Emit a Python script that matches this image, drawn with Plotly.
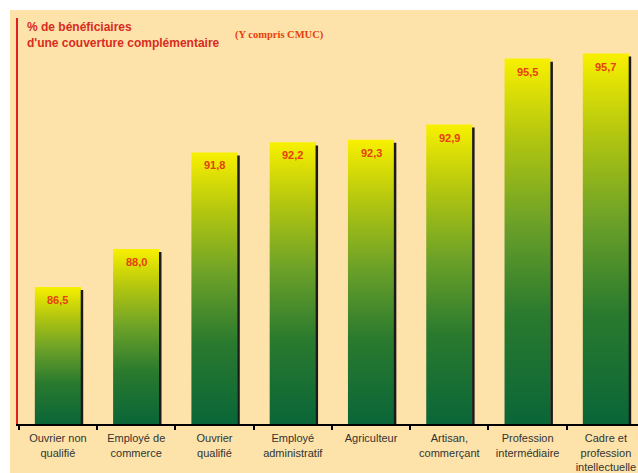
import plotly.graph_objects as go

categories = ["Ouvrier non<br>qualifié", "Employé de<br>commerce", "Ouvrier<br>qualifié",
              "Employé<br>administratif", "Agriculteur", "Artisan,<br>commerçant",
              "Profession<br>intermédiaire", "Cadre et<br>profession<br>intellectuelle"]
values = [86.5, 88.0, 91.8, 92.2, 92.3, 92.9, 95.5, 95.7]
value_labels = ["86,5", "88,0", "91,8", "92,2", "92,3", "92,9", "95,5", "95,7"]

Y_MIN, Y_MAX = 81.1, 97.1
HALF = 0.295
BEIGE = "#FDE3A9"

fig = go.Figure()
for i, v in enumerate(values):
    fig.add_trace(go.Scatter(
        x=[i - HALF, i + HALF, i + HALF, i - HALF, i - HALF],
        y=[Y_MIN, Y_MIN, v, v, Y_MIN],
        mode="lines", line=dict(width=0), fill="toself",
        fillgradient=dict(type="vertical", start=Y_MIN, stop=v,
                          colorscale=[[0, "#0A6638"], [0.3, "#2A7A2E"], [0.55, "#6CA128"],
                                      [0.8, "#B8C90E"], [1, "#F8F000"]]),
        hoverinfo="skip", showlegend=False))
    fig.add_trace(go.Scatter(
        x=[i + HALF + 0.012, i + HALF + 0.012], y=[Y_MIN, v - 0.12],
        mode="lines", line=dict(color="#1A1A1A", width=2.5),
        hoverinfo="skip", showlegend=False))
    fig.add_annotation(x=i, y=v, text="<b>%s</b>" % value_labels[i], showarrow=False,
                       yshift=-13, font=dict(family="Arial", size=11, color="#E63F10"))

fig.add_shape(type="rect", xref="paper", yref="paper", x0=-0.0129, x1=1.01, y0=-0.2, y1=1.0197,
              fillcolor=BEIGE, line=dict(width=0), layer="below")

fig.add_annotation(xref="paper", yref="paper", x=0.012, y=1.0, xanchor="left", yanchor="top",
                   align="left", showarrow=False,
                   text="<b>% de bénéficiaires<br>d'une couverture complémentaire</b>",
                   font=dict(family="Arial", size=12, color="#D92B1F"))
fig.add_annotation(xref="paper", yref="paper", x=0.347, y=0.958, xanchor="left", yanchor="middle",
                   showarrow=False, text="<b>(Y compris CMUC)</b>",
                   font=dict(family="Liberation Serif", size=10.5, color="#E8400C"))

fig.update_layout(
    width=638, height=473,
    margin=dict(l=18, r=0, t=18, b=49),
    paper_bgcolor="white", plot_bgcolor=BEIGE,
    xaxis=dict(range=[-0.51, 7.41], tickvals=list(range(len(categories))), ticktext=categories,
               ticks="", showgrid=False, zeroline=False, showline=True, linecolor="black", linewidth=2,
               ticklabelstandoff=3,
               tickfont=dict(family="Arial", size=11, color="#333333"),
               minor=dict(tickvals=[k - 0.5 for k in range(len(categories) + 1)], ticks="outside",
                          ticklen=4, tickcolor="black", tickwidth=2, showgrid=False)),
    yaxis=dict(range=[Y_MIN, Y_MAX], showticklabels=False, ticks="", showgrid=False, zeroline=False,
               showline=True, linecolor="#E02020", linewidth=2),
)

fig.write_html("out.html")
